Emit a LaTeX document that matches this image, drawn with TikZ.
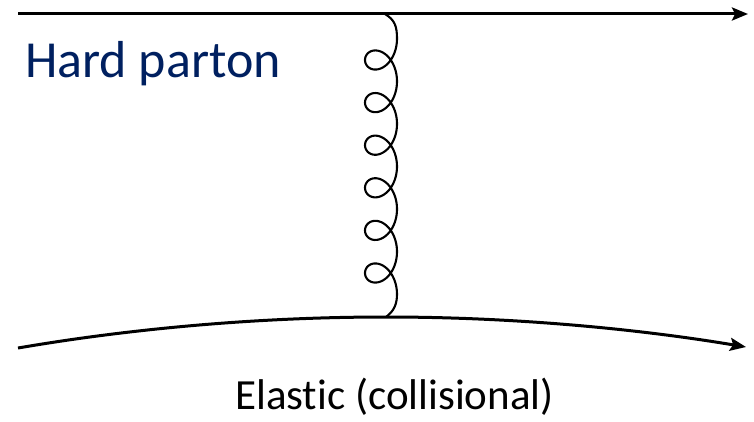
\documentclass[tikz,border=0pt]{standalone}
\usepackage{fontspec}
\setmainfont[Ligatures=NoCommon]{Carlito}
\usepackage{xcolor}
\usetikzlibrary{arrows.meta, positioning}
\definecolor{darkblue}{RGB}{0,32,96}

\begin{document}
\begin{tikzpicture}[x=1pt,y=1pt,
    parton/.style={line width=3pt,-{Stealth[length=16pt,width=13pt,inset=3pt]}},
    gluon/.style={line width=2.1pt}]
  \useasboundingbox (0,0) rectangle (754,421);
  % lignes des partons
  \coordinate (a1) at (18,407);
  \coordinate (a2) at (748,407);
  \coordinate (b1) at (18,73);
  \coordinate (bm) at (386,104);
  \coordinate (b2) at (746,74);
  \coordinate (vtop) at (385,407);
  \coordinate (g1) at (397,382.3);
  \draw[parton] (a1) -- (a2);
  \draw[parton] (b1) parabola bend (bm) (b2);
  % gluon echange (6 boucles)
  \draw[gluon] (vtop) .. controls +(10,-6) and +(0,12) .. (g1)
    -- plot[domain=0:12*pi, samples=361] ({381+16*cos(\x r)}, {382.3-6.78*\x-19*sin(\x r)})
    .. controls +(0,-10) and +(8,6) .. (bm);
  % textes
  \node[anchor=base west, text=darkblue, font=\fontsize{52}{52}\selectfont, inner sep=0pt] (hard) at (25,343) {Hard parton};
  \node[anchor=base west, font=\fontsize{43}{43}\selectfont, inner sep=0pt] (elastic) at (235,12) {Elastic (collisional)};
\end{tikzpicture}
\end{document}
